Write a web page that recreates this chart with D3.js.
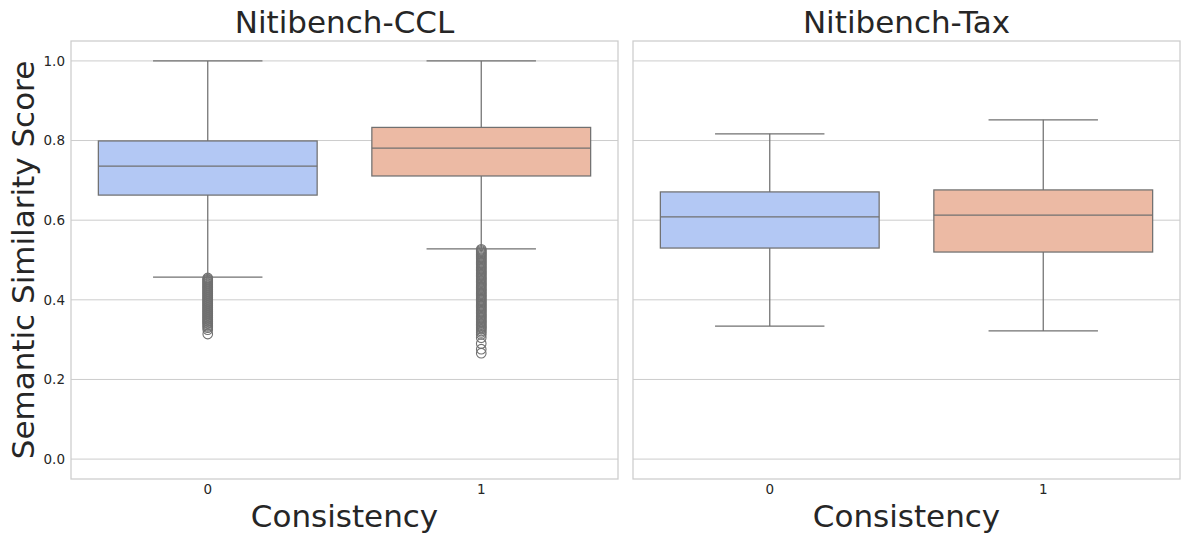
<!DOCTYPE html>
<html>
<head>
<meta charset="utf-8">
<script src="https://cdn.jsdelivr.net/npm/d3@7"></script>
<style>
  body { margin: 0; background: #fff; }
  text { font-family: "DejaVu Sans", sans-serif; fill: #262626; }
</style>
</head>
<body>
<svg id="chart"></svg>
<script>
const width = 1189;
const height = 542;

const panelTitles = ["Nitibench-CCL", "Nitibench-Tax"];
const categories = ["0", "1"];
const yTicks = [0.0, 0.2, 0.4, 0.6, 0.8, 1.0];

// box stats per panel, per category: [lowWhisker, q1, median, q3, highWhisker]
const cclStats = [
  [0.457, 0.663, 0.736, 0.799, 1.0],
  [0.528, 0.711, 0.781, 0.833, 1.0]
];
const taxStats = [
  [0.334, 0.530, 0.608, 0.671, 0.817],
  [0.322, 0.520, 0.613, 0.676, 0.852]
];

// fliers (dense runs)
const cclOutliers0 = [
  0.455, 0.452, 0.450, 0.447, 0.445, 0.442, 0.440, 0.437, 0.435, 0.432,
  0.430, 0.427, 0.425, 0.422, 0.420, 0.417, 0.415, 0.412, 0.410, 0.407,
  0.405, 0.402, 0.400, 0.397, 0.395, 0.392, 0.390, 0.387, 0.385, 0.382,
  0.380, 0.377, 0.375, 0.372, 0.370, 0.367, 0.365, 0.362, 0.360, 0.357,
  0.355, 0.352, 0.350, 0.347, 0.345, 0.342, 0.340, 0.336, 0.333, 0.330,
  0.325, 0.314
];
const cclOutliers1 = [
  0.527, 0.524, 0.521, 0.518, 0.515, 0.512, 0.509, 0.506, 0.503, 0.500,
  0.497, 0.494, 0.491, 0.488, 0.485, 0.482, 0.479, 0.476, 0.473, 0.470,
  0.467, 0.464, 0.461, 0.458, 0.455, 0.452, 0.449, 0.446, 0.443, 0.440,
  0.437, 0.434, 0.431, 0.428, 0.425, 0.422, 0.419, 0.416, 0.413, 0.410,
  0.407, 0.404, 0.401, 0.398, 0.395, 0.392, 0.389, 0.386, 0.383, 0.380,
  0.377, 0.374, 0.371, 0.368, 0.365, 0.362, 0.359, 0.356, 0.353, 0.350,
  0.347, 0.344, 0.341, 0.338, 0.335, 0.332, 0.329, 0.326, 0.322, 0.318,
  0.313, 0.305, 0.290, 0.276, 0.266
];

const panels = [
  { title: panelTitles[0], stats: cclStats, outliers: [cclOutliers0, cclOutliers1], x0: 71, x1: 618, yLabels: true },
  { title: panelTitles[1], stats: taxStats, outliers: [[], []], x0: 633, x1: 1180, yLabels: false }
];

const colors = ["#b3c8f4", "#ecbaa4"];
const lineColor = "#707070";
const gridColor = "#cccccc";

const plotTop = 41, plotBottom = 479;

const y = d3.scaleLinear().domain([-0.05, 1.05]).range([plotBottom, plotTop]);

const svg = d3.select("#chart").attr("width", width).attr("height", height);

panels.forEach((p) => {
  const x = d3.scaleBand().domain(categories).range([p.x0, p.x1]).paddingInner(0).paddingOuter(0);
  const boxW = x.bandwidth() * 0.8;
  const capW = boxW / 2;
  const g = svg.append("g");

  // grid
  g.selectAll(".grid")
    .data(yTicks)
    .enter()
    .append("line")
    .attr("x1", p.x0).attr("x2", p.x1)
    .attr("y1", (d) => y(d)).attr("y2", (d) => y(d))
    .attr("stroke", gridColor).attr("stroke-width", 1);

  // frame
  g.append("rect")
    .attr("x", p.x0).attr("y", plotTop)
    .attr("width", p.x1 - p.x0).attr("height", plotBottom - plotTop)
    .attr("fill", "none").attr("stroke", gridColor).attr("stroke-width", 1.25);

  categories.forEach((c, i) => {
    const [lo, q1, med, q3, hi] = p.stats[i];
    const cx = x(c) + x.bandwidth() / 2;

    // whiskers
    g.append("line")
      .attr("x1", cx).attr("x2", cx).attr("y1", y(q3)).attr("y2", y(hi))
      .attr("stroke", lineColor).attr("stroke-width", 1.25);
    g.append("line")
      .attr("x1", cx).attr("x2", cx).attr("y1", y(q1)).attr("y2", y(lo))
      .attr("stroke", lineColor).attr("stroke-width", 1.25);
    [lo, hi].forEach((v) => {
      g.append("line")
        .attr("x1", cx - capW / 2).attr("x2", cx + capW / 2)
        .attr("y1", y(v)).attr("y2", y(v))
        .attr("stroke", lineColor).attr("stroke-width", 1.25);
    });

    // box
    g.append("rect")
      .attr("x", cx - boxW / 2).attr("y", y(q3))
      .attr("width", boxW).attr("height", y(q1) - y(q3))
      .attr("fill", colors[i]).attr("stroke", lineColor).attr("stroke-width", 1.25);

    // median
    g.append("line")
      .attr("x1", cx - boxW / 2).attr("x2", cx + boxW / 2)
      .attr("y1", y(med)).attr("y2", y(med))
      .attr("stroke", lineColor).attr("stroke-width", 1.25);

    // fliers
    g.selectAll(null)
      .data(p.outliers[i])
      .enter()
      .append("circle")
      .attr("cx", cx).attr("cy", (d) => y(d))
      .attr("r", 4.8)
      .attr("fill", "none").attr("stroke", lineColor).attr("stroke-width", 1.1);

    // x tick label
    g.append("text")
      .attr("x", cx).attr("y", plotBottom + 15)
      .attr("text-anchor", "middle")
      .style("font-size", "13.5px")
      .text(c);
  });

  if (p.yLabels) {
    g.selectAll(".ylab")
      .data(yTicks)
      .enter()
      .append("text")
      .attr("x", p.x0 - 6).attr("y", (d) => y(d))
      .attr("dy", "0.35em")
      .attr("text-anchor", "end")
      .style("font-size", "13.5px")
      .text((d) => d3.format(".1f")(d));
  }

  // title
  g.append("text")
    .attr("x", (p.x0 + p.x1) / 2).attr("y", 33)
    .attr("text-anchor", "middle")
    .style("font-size", "31px")
    .text(p.title);

  // x axis label
  g.append("text")
    .attr("x", (p.x0 + p.x1) / 2).attr("y", 527)
    .attr("text-anchor", "middle")
    .style("font-size", "31px")
    .text("Consistency");
});

// y axis label
svg.append("text")
  .attr("transform", `translate(34, ${(plotTop + plotBottom) / 2}) rotate(-90)`)
  .attr("text-anchor", "middle")
  .style("font-size", "31px")
  .text("Semantic Similarity Score");
</script>
</body>
</html>
